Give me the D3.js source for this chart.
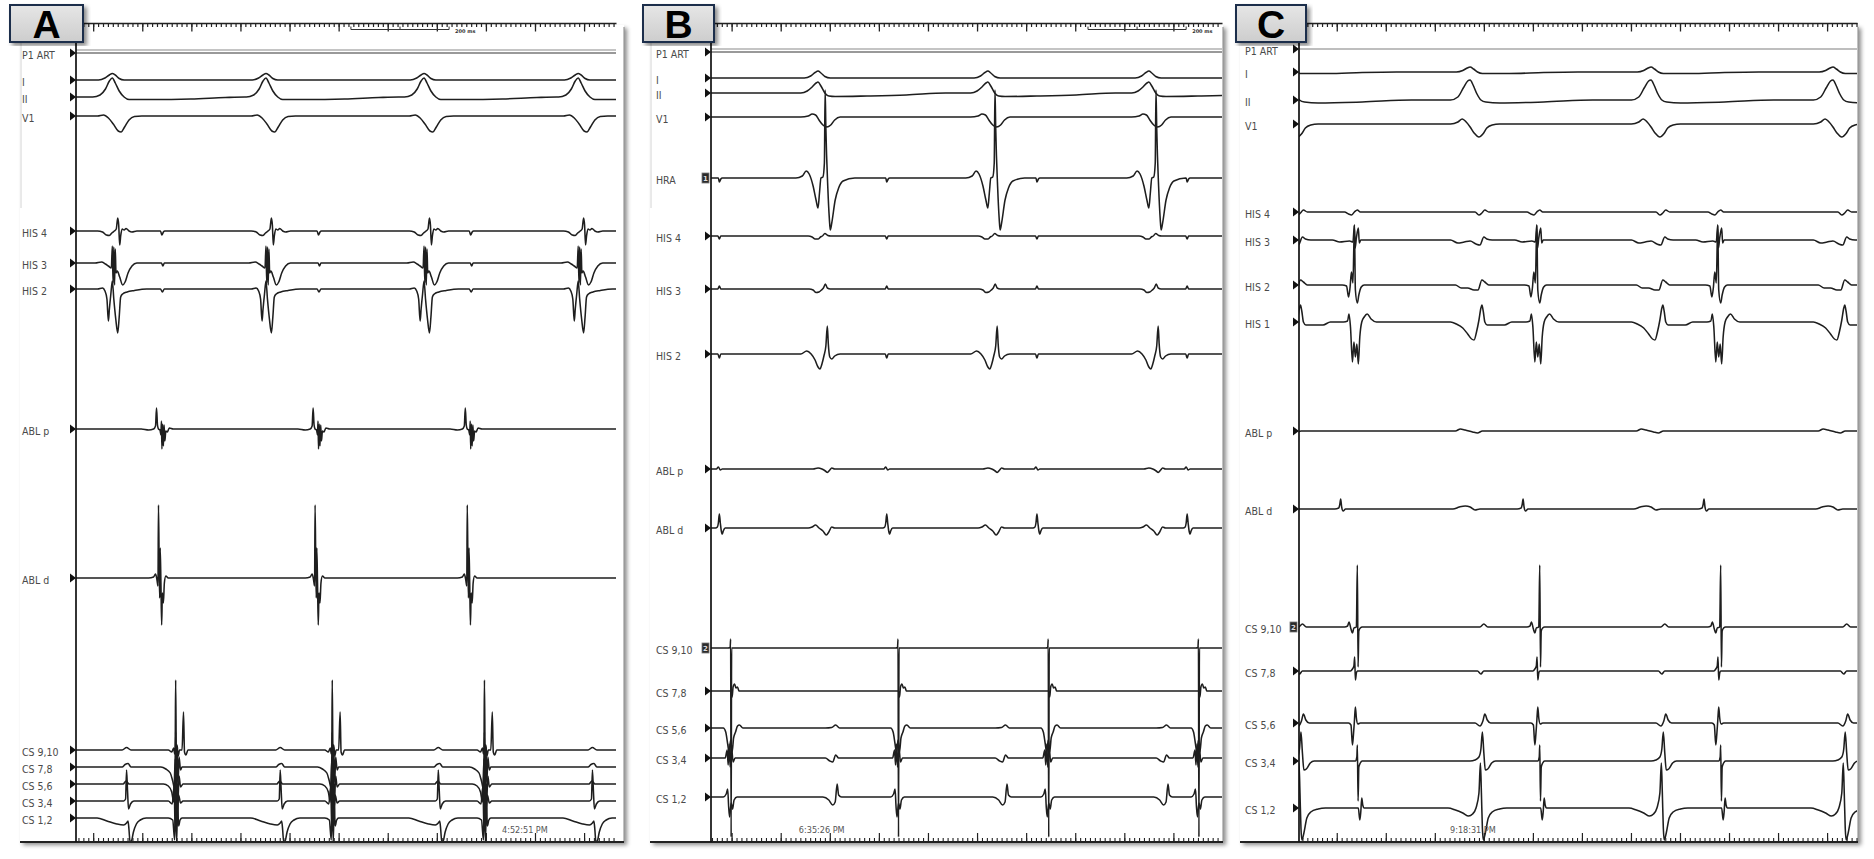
<!DOCTYPE html>
<html>
<head>
<meta charset="utf-8">
<script src="https://cdn.jsdelivr.net/npm/d3@7"></script>
<style>
  body { margin: 0; background: #fff; }
  svg { display: block; }
  .lbl { font-family: "Liberation Sans Narrow", "DejaVu Sans Condensed", "Liberation Sans", sans-serif; font-size: 10.5px; fill: #4a4a4a; }
  .stamp { font-family: "Liberation Sans Narrow", "DejaVu Sans Condensed", sans-serif; font-size: 9px; fill: #555; }
</style>
</head>
<body>
<svg id="chart"></svg>
<script>
// channel names, top to bottom
const labelsA = ["P1 ART", "I", "II", "V1", "HIS 4", "HIS 3", "HIS 2", "ABL p", "ABL d", "CS 9,10", "CS 7,8", "CS 5,6", "CS 3,4", "CS 1,2"];
const labelsB = ["P1 ART", "I", "II", "V1", "HRA", "HIS 4", "HIS 3", "HIS 2", "ABL p", "ABL d", "CS 9,10", "CS 7,8", "CS 5,6", "CS 3,4", "CS 1,2"];
const labelsC = ["P1 ART", "I", "II", "V1", "HIS 4", "HIS 3", "HIS 2", "HIS 1", "ABL p", "ABL d", "CS 9,10", "CS 7,8", "CS 5,6", "CS 3,4", "CS 1,2"];

// beat times in ms from the left edge of each sweep (V = ventricular, A = atrial)
const vA = [74, 387, 709, 1023];
const aA = [168, 487, 797];
const vB = [218, 564, 892];
const aB = [17, 358, 664, 970];
const vC = [-21, 349, 718, 1089];
const aC = [113, 485, 854];

const stampA = "4:52:51 PM";
const stampB = "6:35:26 PM";
const stampC = "9:18:31 PM";

// electrogram shapes: [channel, beat kind, [[ms from beat, deflection]]]
const wavesA = [
  ["I", "V", [[-28,0],[-15,2],[-6,5],[0,6.5],[6,5],[14,1.5],[24,0]]],
  ["II", "V", [[-40,0],[-25,2],[-14,8],[-6,16],[0,19],[6,14],[14,6],[24,0],[34,-2.5],[80,-2.5],[160,-2],[230,-0.5],[270,0]]],
  ["V1", "V", [[-30,0],[-18,1],[-8,-2],[2,-8],[12,-15],[18,-16],[25,-11],[34,-4],[45,-0.5],[60,0]]],
  ["HIS 4", "V", [[-30,0],[-20,-1],[-12,-4],[-6,-4.5],[-1,-2],[4,0],[8,2],[11,13],[13,6],[15,-14],[17,-5],[20,2],[24,1],[28,2.5],[34,0],[40,-1],[50,0]]],
  ["HIS 4", "A", [[4,0],[7,-4],[10,-1],[13,0]]],
  ["HIS 3", "V", [[-35,0],[-22,1],[-14,-1],[-8,-3],[-2,-5],[0,17],[1.5,-20],[3,16],[4.5,-22],[6,14],[7.5,-10],[10,-8],[15,-14],[21,-22],[26,-19],[32,-10],[40,-3],[50,0]]],
  ["HIS 3", "A", [[6,0],[9,-3],[12,0]]],
  ["HIS 2", "V", [[-30,0],[-20,1],[-15,-2],[-11,-10],[-8,-32],[-6,-20],[-3,-5],[0,8],[3,-10],[7,-30],[11,-44],[14,-28],[17,-8],[21,-5],[30,-3],[45,-1.5],[70,0]]],
  ["HIS 2", "A", [[4,0],[8,-3],[12,0]]],
  ["ABL p", "A", [[-35,0],[-20,-1],[-10,0],[-6,3],[-4,21],[-2,4],[0,0],[3,-1],[5,-6],[6,8],[7,-20],[8.5,5],[10,-17],[11.5,4],[13,-12],[15,-2],[18,-3],[22,1],[30,0]]],
  ["ABL d", "A", [[-20,0],[-10,1],[-6,4],[-3,-2],[-1,-8],[0,73],[1.5,10],[2.5,-20],[3.5,30],[5,-5],[6.5,-47],[8,-15],[10,-25],[12,-5],[15,2],[20,0],[30,0]]],
  ["CS 9,10", "V", [[20,0],[29,2.5],[38,0]]],
  ["CS 9,10", "A", [[20,0],[27,-2],[31,2],[33,-4],[34,-2],[35,70],[36.5,-10],[38,5],[40,-6],[43,0],[48,0],[51,38],[53,-2],[56,-5],[60,0]]],
  ["CS 7,8", "V", [[20,0],[26,2.5],[32,3.5],[38,0]]],
  ["CS 7,8", "A", [[5,0],[15,-2],[24,-6],[29,-14],[33,-22],[35,35],[36.5,-30],[38,20],[40,-15],[42,10],[45,-3],[48,0]]],
  ["CS 5,6", "V", [[22,0],[28,3],[34,0]]],
  ["CS 5,6", "A", [[10,0],[20,-2],[27,-8],[31,-18],[34,25],[35.5,-40],[37,20],[39,-25],[42,8],[45,-3],[50,0]]],
  ["CS 3,4", "V", [[23,0],[27,2],[29,31],[31,10],[33,-8],[37,-3],[44,0]]],
  ["CS 3,4", "A", [[20,0],[28,-3],[32,15],[34,-30],[36,40],[38,-25],[41,6],[45,-2],[50,0]]],
  ["CS 1,2", "V", [[-31,0],[-11,-3],[9,-6],[23,-7],[29,-5],[32,-3],[34,-12],[36,-24],[39,-23],[43,-14],[49,-6],[57,-2],[69,0]]],
  ["CS 1,2", "A", [[20,0],[29,-2],[33,-22],[35,25],[37,-24],[39,15],[41,-8],[44,-2],[48,0]]]
];

const wavesB = [
  ["I", "V", [[-28,0],[-15,2],[-6,5.5],[0,7],[6,5],[14,1.5],[25,0]]],
  ["II", "V", [[-35,0],[-22,2],[-12,6],[-4,10],[0,11],[6,7],[14,0],[22,-3],[35,-3.5],[100,-3],[180,-2],[260,0]]],
  ["V1", "V", [[-35,0],[-20,1],[-12,3],[-5,2],[2,-3],[10,-8],[18,-10],[26,-8],[34,-3],[45,0]]],
  ["HRA", "V", [[-45,0],[-32,2],[-24,7],[-18,4],[-10,-8],[-4,-22],[0,-30],[3,-15],[6,0],[10,1],[13,15],[14.5,88],[16,50],[20,-10],[23,-40],[25,-52],[28,-45],[35,-22],[42,-10],[51,-3],[75,0]]],
  ["HRA", "A", [[-2,0],[0,-4],[3,-1],[6,0]]],
  ["HIS 4", "V", [[-20,0],[-12,-1],[-6,-3],[0,-3],[5,-1],[9,0],[14,2.5],[20,0.5],[26,0]]],
  ["HIS 4", "A", [[-3,0],[0,-3],[3,0]]],
  ["HIS 3", "V", [[-18,0],[-10,-1],[-4,-3.5],[2,-3],[7,-1],[11,1],[15,5],[19,1],[25,0]]],
  ["HIS 3", "A", [[-3,0],[0,3],[3,0]]],
  ["HIS 2", "V", [[-35,0],[-23,3],[-14,0],[-6,-6],[0,-13],[4,-15],[8,-10],[12,-2],[16,8],[19,28],[21,10],[24,-3],[28,-5],[34,-2],[45,0]]],
  ["HIS 2", "A", [[-3,0],[0,-4],[3,0]]],
  ["ABL p", "V", [[-10,0],[0,1],[8,0],[15,-2],[19,-3.5],[24,-1],[28,1],[34,0]]],
  ["ABL p", "A", [[-6,0],[-2,2],[2,-1],[6,0]]],
  ["ABL d", "V", [[-20,0],[-12,1],[-5,3],[2,0],[10,-3],[17,-7],[22,-4],[28,1],[34,0]]],
  ["ABL d", "A", [[-8,0],[-4,1],[-2,5],[0,14],[2,5],[4,-3],[6,-6],[8,-3],[12,0]]],
  ["CS 9,10", "A", [[18,0],[22,0.5],[23,9],[24,-189],[25,0],[30,0]]],
  ["CS 7,8", "A", [[24,0],[26,-6],[28,4],[31,7],[34,3],[37,4],[40,0]]],
  ["CS 5,6", "V", [[15,0],[28,0.5],[36,3],[44,0]]],
  ["CS 5,6", "A", [[8,0],[13,-4],[17,-16],[20,-25],[23,-12],[26,-24],[29,-10],[33,-4],[37,2],[41,3],[48,0]]],
  ["CS 3,4", "V", [[15,0],[24,-3],[30,-4],[36,3],[42,0]]],
  ["CS 3,4", "A", [[12,0],[16,8],[18,-7],[20,14],[22,-9],[25,10],[28,-4],[32,0]]],
  ["CS 1,2", "V", [[10,0],[22,-3],[30,-8],[35,-5],[39,13],[42,2],[48,0]]],
  ["CS 1,2", "A", [[8,0],[14,3],[17,8],[19,-10],[21,-20],[24,-6],[27,-12],[30,-3],[36,0]]]
];

const wavesC = [
  ["I", "V", [[-28,0],[-15,1.5],[-6,4],[0,5],[7,3],[15,0],[25,-1.5],[80,-1.5],[150,-0.5],[220,0]]],
  ["II", "V", [[-40,0],[-25,3],[-14,12],[-5,19],[0,20],[6,15],[14,6],[22,0],[32,-2],[60,-3],[150,-2],[250,0]]],
  ["V1", "V", [[-40,0],[-25,2],[-16,5],[-8,2],[0,-3],[8,-9],[18,-13],[26,-10],[34,-4],[45,-1],[60,0]]],
  ["HIS 4", "A", [[-20,0],[-12,-2],[-6,-3],[0,0],[6,2],[12,0]]],
  ["HIS 4", "V", [[10,0],[18,-3],[24,-1],[30,2],[38,0]]],
  ["HIS 3", "A", [[-45,0],[-30,-2],[-10,-1],[-3,-2],[0,15],[1.5,-8],[4,2],[8,12],[10,-3],[13,0]]],
  ["HIS 3", "V", [[-40,0],[-25,-3],[-12,-2],[0,-1],[12,-4],[20,-5],[28,3],[34,1],[45,0]]],
  ["HIS 2", "A", [[-25,0],[-16,-1],[-12,-12],[-9,-3],[-6,13],[-3,2],[0,60],[2,-5],[6,-18],[9,-10],[14,-2],[20,0]]],
  ["HIS 2", "V", [[-30,0],[-18,-3],[-5,-3],[8,-5],[16,-5],[24,5],[30,3],[38,0]]],
  ["HIS 1", "A", [[-22,0],[-14,1],[-11,8],[-8,-5],[-4,-40],[-1,-20],[2,-35],[5,-22],[8,-42],[11,-15],[15,0],[20,5],[26,8],[34,3],[45,0]]],
  ["HIS 1", "V", [[-40,0],[-28,-2],[-15,-6],[-5,-12],[3,-17],[8,-18],[13,-10],[18,2],[22,14],[24,17],[27,10],[30,0],[35,-3],[70,-3],[85,0]]],
  ["ABL p", "V", [[-30,0],[-20,2],[-10,1],[5,-1],[15,-2],[25,0]]],
  ["ABL d", "A", [[-40,0],[-32,1],[-30,4],[-28,10],[-26,2],[-23,-2],[-18,0]]],
  ["ABL d", "V", [[-35,0],[-22,2],[-10,3],[0,2],[10,-1],[20,0]]],
  ["CS 9,10", "A", [[-20,0],[-14,1],[-11,5],[-7,-2],[-4,-6],[-1,-1],[4,0],[6,62],[7.5,-40],[9,-4],[12,-1],[16,0]]],
  ["CS 9,10", "V", [[20,0],[28,3],[36,0]]],
  ["CS 7,8", "A", [[-8,0],[-4,2],[-1,5],[0.5,14],[2,-9],[4,-2],[6,0]]],
  ["CS 7,8", "V", [[15,0],[22,-3],[28,0]]],
  ["CS 5,6", "A", [[-12,0],[-7,-2],[-4,-22],[-2,-12],[0,2],[2,16],[4,5],[7,-1],[12,0]]],
  ["CS 5,6", "V", [[10,0],[20,-3],[26,2],[30,9],[35,3],[42,0]]],
  ["CS 3,4", "A", [[2,0],[5,4],[6,16],[7.5,-40],[9,-6],[12,-2],[16,0]]],
  ["CS 3,4", "V", [[0,0],[10,1],[18,4],[22,12],[25,29],[28,8],[31,-9],[36,-8],[44,-2],[52,0]]],
  ["CS 1,2", "A", [[8,0],[11,-12],[13,-4],[15,10],[17,3],[20,0]]],
  ["CS 1,2", "V", [[-45,0],[-30,-2],[-15,-5],[-3,-8],[5,-6],[12,0],[18,15],[21,45],[23,15],[25,-20],[27,-32],[31,-25],[37,-10],[45,-4],[60,-1],[75,0]]]
];

// layout: baseline of each channel (px), panel geometry
const rowsA = [53, 80, 97, 116, 231, 263, 289, 429, 578, 750, 767, 784, 801, 818];
const rowsB = [52, 78, 93, 117, 178, 236, 289, 354, 469, 528, 648, 691, 728, 758, 797];
const rowsC = [49, 72, 100, 124, 212, 240, 285, 322, 431, 509, 627, 671, 723, 761, 808];

const panels = [
  { id: "A", labels: labelsA, rows: rowsA, waves: wavesA, ev: { V: vA, A: aA }, T: 1100,
    x0: 76, x1: 616, edge: 624, left: 20, labelX: 22, box: [10, 5, 73, 37], major: 35,
    bar: 560, stamp: stampA, stampT: 868, boxed: {}, frameLine: true },
  { id: "B", labels: labelsB, rows: rowsB, waves: wavesB, ev: { V: vB, A: aB }, T: 1041,
    x0: 711, x1: 1222, edge: 1223, left: 650, labelX: 656, box: [643, 5, 71, 37], major: 42,
    bar: 768, stamp: stampB, stampT: 179, boxed: { "HRA": "1", "CS 9,10": "2" }, frameLine: true },
  { id: "C", labels: labelsC, rows: rowsC, waves: wavesC, ev: { V: vC, A: aC }, T: 1138,
    x0: 1299, x1: 1857, edge: 1858, left: 1240, labelX: 1245, box: [1236, 5, 70, 37], major: 77,
    bar: null, stamp: stampC, stampT: 308, boxed: { "CS 9,10": "2" }, frameLine: false }
];

const bottomY = 842;
const rulerY = 23;

const svg = d3.select("#chart").attr("width", 1874).attr("height", 859);
const defs = svg.append("defs");

const shadow = defs.append("filter").attr("id", "shadow")
    .attr("x", "-5%").attr("y", "-5%").attr("width", "115%").attr("height", "115%");
shadow.append("feDropShadow")
    .attr("dx", 3).attr("dy", 3).attr("stdDeviation", 2)
    .attr("flood-color", "#000").attr("flood-opacity", 0.45);

const grad = defs.append("linearGradient").attr("id", "boxGrad")
    .attr("x1", 0).attr("y1", 0).attr("x2", 0).attr("y2", 1);
grad.append("stop").attr("offset", "0%").attr("stop-color", "#e6e6e6");
grad.append("stop").attr("offset", "100%").attr("stop-color", "#cdcdcd");

// merge the beat shapes of one channel into a single sorted point list
function buildPoints(label, waves, ev, T) {
    const pts = [[-200, 0], [T + 400, 0]];
    waves.filter(w => w[0] === label).forEach(([, kind, shape]) => {
        ev[kind].forEach(t0 => shape.forEach(([dt, a]) => pts.push([t0 + dt, a])));
    });
    pts.sort((a, b) => a[0] - b[0]);
    return pts.filter((d, i) => i === 0 || d[0] > pts[i - 1][0]);
}

panels.forEach(p => {
    const g = svg.append("g");
    const x = d3.scaleLinear().domain([0, p.T]).range([p.x0, p.x1]);

    // white sheet with shadow on right/bottom
    g.append("rect")
        .attr("x", p.left).attr("y", rulerY + 2)
        .attr("width", p.edge - p.left).attr("height", bottomY - rulerY - 2)
        .attr("fill", "#fff").attr("filter", "url(#shadow)");
    g.append("line")
        .attr("x1", p.edge).attr("x2", p.edge).attr("y1", rulerY + 4).attr("y2", bottomY)
        .attr("stroke", "#9a9a9a").attr("stroke-width", 1.2);
    if (p.frameLine) {
        g.append("line")
            .attr("x1", p.left + 1).attr("x2", p.left + 1).attr("y1", 42).attr("y2", 208)
            .attr("stroke", "#d4d4d4").attr("stroke-width", 1);
    }

    const clipId = "clip" + p.id;
    defs.append("clipPath").attr("id", clipId).append("rect")
        .attr("x", p.x0).attr("y", 26).attr("width", p.x1 - p.x0).attr("height", bottomY - 26);

    const traces = g.append("g").attr("clip-path", `url(#${clipId})`);

    p.labels.forEach((lab, i) => {
        const base = p.rows[i];
        const y = d3.scaleLinear().domain([0, 1]).range([base, base - 1]);
        const line = d3.line()
            .x(d => x(d[0]))
            .y(d => y(d[1]))
            .curve(d3.curveMonotoneX);
        const pts = buildPoints(lab, p.waves, p.ev, p.T);

        if (lab === "P1 ART" && p.id !== "C") {
            traces.append("line")
                .attr("x1", p.x0).attr("x2", p.x1).attr("y1", base - 3).attr("y2", base - 3)
                .attr("stroke", "#c4c4c4").attr("stroke-width", 2.2);
        }
        traces.append("path")
            .attr("d", line(pts))
            .attr("fill", "none")
            .attr("stroke", lab === "P1 ART" ? (p.id === "C" ? "#a8a8a8" : "#777") : "#1e1e1e")
            .attr("stroke-width", lab === "P1 ART" ? 1.3 : 1.55)
            .attr("stroke-linejoin", "round");

        g.append("text")
            .attr("class", "lbl")
            .attr("x", p.labelX)
            .attr("y", base + 2)
            .attr("dominant-baseline", "central")
            .text(lab);

        if (p.boxed[lab]) {
            g.append("rect")
                .attr("x", p.x0 - 9).attr("y", base - 5).attr("width", 7).attr("height", 10)
                .attr("fill", "#2a2a2a").attr("stroke", "#777").attr("stroke-width", 0.8);
            g.append("text")
                .attr("x", p.x0 - 5.5).attr("y", base + 3)
                .attr("text-anchor", "middle")
                .style("font", "bold 7px 'DejaVu Sans', sans-serif")
                .attr("fill", "#ddd")
                .text(p.boxed[lab]);
        } else {
            g.append("path")
                .attr("d", `M${p.x0 - 6},${base - 4.5}L${p.x0},${base}L${p.x0 - 6},${base + 4.5}Z`)
                .attr("fill", "#111");
        }
    });

    // time rulers: minor tick every 10 ms, major every 100 ms
    const minor = d3.range(p.major % 10, p.T + 0.1, 10);
    const major = d3.range(p.major % 100, p.T + 0.1, 100);

    const top = g.append("g").attr("transform", `translate(0,${rulerY})`).attr("color", "#222");
    top.call(d3.axisBottom(x).tickValues(minor).tickSize(4).tickSizeOuter(0).tickFormat(""));
    top.selectAll("line").attr("stroke-width", 1.2);
    top.select(".domain").attr("stroke-width", 1.6);
    const topMajor = g.append("g").attr("transform", `translate(0,${rulerY})`).attr("color", "#222");
    topMajor.call(d3.axisBottom(x).tickValues(major).tickSize(8.5).tickFormat(""));
    topMajor.selectAll("line").attr("stroke-width", 1.3);
    topMajor.select(".domain").remove();

    const bot = g.append("g").attr("transform", `translate(0,${bottomY})`).attr("color", "#222");
    bot.call(d3.axisTop(x).tickValues(minor).tickSize(4).tickSizeOuter(0).tickFormat(""));
    bot.selectAll("line").attr("stroke-width", 1.1);
    bot.select(".domain").remove();
    const botMajor = g.append("g").attr("transform", `translate(0,${bottomY})`).attr("color", "#222");
    botMajor.call(d3.axisTop(x).tickValues(major).tickSize(9).tickFormat(""));
    botMajor.selectAll("line").attr("stroke-width", 1.2);
    botMajor.select(".domain").remove();

    g.append("line")
        .attr("x1", p.left).attr("x2", p.edge).attr("y1", bottomY).attr("y2", bottomY)
        .attr("stroke", "#222").attr("stroke-width", 2);

    // 200 ms calibration bar
    if (p.bar !== null) {
        const bx0 = x(p.bar), bx1 = x(p.bar + 200);
        g.append("line").attr("x1", bx0).attr("x2", bx1).attr("y1", 29.5).attr("y2", 29.5)
            .attr("stroke", "#333").attr("stroke-width", 1);
        [p.bar, p.bar + 100, p.bar + 200].forEach(t => {
            g.append("line").attr("x1", x(t)).attr("x2", x(t)).attr("y1", 26.5).attr("y2", 29.5)
                .attr("stroke", "#333").attr("stroke-width", 1);
        });
        g.append("text")
            .attr("x", bx1 + 6).attr("y", 32.5)
            .style("font", "bold 5px 'DejaVu Sans', sans-serif")
            .attr("fill", "#333")
            .text("200 ms");
    }

    // time stamp
    g.append("text").attr("class", "stamp")
        .attr("x", x(p.stampT)).attr("y", bottomY - 9)
        .text(p.stamp);

    // left axis line
    g.append("line")
        .attr("x1", p.x0).attr("x2", p.x0).attr("y1", 40).attr("y2", bottomY)
        .attr("stroke", "#111").attr("stroke-width", 1.7);

    // panel letter
    const [bx, by, bw, bh] = p.box;
    g.append("rect")
        .attr("x", bx).attr("y", by).attr("width", bw).attr("height", bh)
        .attr("fill", "url(#boxGrad)").attr("stroke", "#1d2f4b").attr("stroke-width", 2)
        .attr("filter", "url(#shadow)");
    g.append("text")
        .attr("x", bx + bw / 2).attr("y", by + bh / 2 + 14)
        .attr("text-anchor", "middle")
        .style("font", "bold 39px 'Liberation Sans', Arial, sans-serif")
        .attr("fill", "#000")
        .text(p.id);
});
</script>
</body>
</html>
